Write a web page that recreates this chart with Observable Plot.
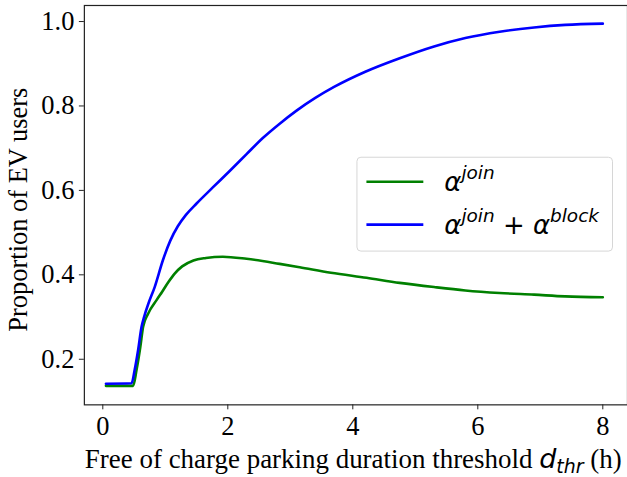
<!DOCTYPE html>
<html><head><meta charset="utf-8">
<script src="https://cdn.jsdelivr.net/npm/d3@7"></script>
<script src="https://cdn.jsdelivr.net/npm/@observablehq/plot@0.6"></script>
<style>html,body{margin:0;padding:0;background:#fff;overflow:hidden} svg{display:block}</style>
</head><body><div id="chart"></div>
<script>
// alpha^join series
const joinX = [0.05, 0.485, 0.54, 0.6, 0.645, 0.725, 0.86, 0.95, 1.05, 1.15, 1.27, 1.45, 1.65, 1.92, 2.3, 2.83, 3.15, 3.65, 4.22, 4.75, 5.3, 5.8, 6.35, 6.9, 7.4, 8.0];
const joinY = [0.137, 0.137, 0.175, 0.229, 0.277, 0.308, 0.340, 0.360, 0.383, 0.403, 0.420, 0.434, 0.440, 0.443, 0.438, 0.426, 0.418, 0.405, 0.393, 0.381, 0.371, 0.363, 0.357, 0.353, 0.349, 0.347];
// alpha^join + alpha^block series
const totalX = [0.05, 0.46, 0.51, 0.565, 0.62, 0.66, 0.73, 0.83, 0.96, 1.08, 1.2, 1.33, 1.5, 1.76, 2.03, 2.3, 2.56, 2.83, 3.1, 3.4, 3.7, 4.2, 4.75, 5.3, 5.8, 6.35, 6.9, 7.4, 8.0];
const totalY = [0.142, 0.143, 0.175, 0.222, 0.277, 0.300, 0.332, 0.371, 0.434, 0.481, 0.515, 0.542, 0.569, 0.607, 0.646, 0.686, 0.724, 0.758, 0.789, 0.819, 0.845, 0.881, 0.913, 0.941, 0.961, 0.976, 0.986, 0.992, 0.995];
const xTicks = [0, 2, 4, 6, 8];
const yTicks = [0.2, 0.4, 0.6, 0.8, 1.0];
const xDomain = [-0.295, 8.395];
const yDomain = [0.092, 1.038];
const seriesColors = ["green", "blue"];

const joinData = joinX.map((x, i) => ({x, y: joinY[i]}));
const totalData = totalX.map((x, i) => ({x, y: totalY[i]}));

const serif = "'Liberation Serif', 'Times New Roman', serif";
const sans = "'DejaVu Sans', sans-serif";

const plot = Plot.plot({
  width: 628, height: 477,
  marginLeft: 84, marginRight: 0, marginTop: 5, marginBottom: 72,
  x: {domain: xDomain},
  y: {domain: yDomain},
  style: {fontFamily: serif, fontSize: "26.5px", color: "black", background: "white", overflow: "visible"},
  marks: [
    Plot.frame({stroke: "#222", strokeWidth: 1.2}),
    Plot.axisX({ticks: xTicks, tickFormat: d => String(d), tickSize: 5, tickPadding: 6, label: null, fontSize: 26.5, stroke: "#222"}),
    Plot.axisY({ticks: yTicks, tickFormat: d3.format(".1f"), tickSize: 5, tickPadding: 5, label: null, fontSize: 26.5, stroke: "#222"}),
    Plot.line(joinData, {x: "x", y: "y", stroke: seriesColors[0], strokeWidth: 2.6, curve: "monotone-x"}),
    Plot.line(totalData, {x: "x", y: "y", stroke: seriesColors[1], strokeWidth: 2.6, curve: "monotone-x"})
  ]
});
document.getElementById("chart").appendChild(plot);

const svg = d3.select(plot);

// x axis label
const xl = svg.append("text").attr("x", 85).attr("y", 469).attr("text-anchor", "start")
  .attr("font-family", serif).attr("font-size", 27).attr("fill", "black");
xl.append("tspan").text("Free of charge parking duration threshold ");
xl.append("tspan").attr("font-family", sans).attr("font-style", "italic").attr("font-size", 27).text("d");
xl.append("tspan").attr("font-family", sans).attr("font-style", "italic").attr("font-size", 19).attr("dy", 5).text("thr");
xl.append("tspan").attr("dy", -5).text(" (h)");

// y axis label
svg.append("text").attr("transform", "translate(27,210) rotate(-90)")
  .attr("text-anchor", "middle").attr("font-family", serif).attr("font-size", 26.5).attr("fill", "black")
  .text("Proportion of EV users");

// legend
const lg = svg.append("g");
lg.append("rect").attr("x", 357.5).attr("y", 157.5).attr("width", 256).attr("height", 94).attr("rx", 4)
  .attr("fill", "white").attr("fill-opacity", 0.8).attr("stroke", "#d6d6d6");
const rows = [
  {y: 182, base: 191, color: seriesColors[0], parts: [["α", "join"]]},
  {y: 225, base: 234, color: seriesColors[1], parts: [["α", "join"], ["+"], ["α", "block"]]}
];
rows.forEach(r => {
  lg.append("line").attr("x1", 367).attr("x2", 424).attr("y1", r.y).attr("y2", r.y)
    .attr("stroke", r.color).attr("stroke-width", 2.6);
  const t = lg.append("text").attr("x", 445).attr("y", r.base).attr("text-anchor", "start")
    .attr("font-family", sans).attr("font-size", 26).attr("fill", "black");
  let raised = false;
  r.parts.forEach(p => {
    const back = raised ? 12 : 0;
    raised = false;
    if (p.length === 1) {
      t.append("tspan").attr("font-style", "normal").attr("dy", back).text("\u00A0" + p[0] + "\u00A0");
    } else {
      t.append("tspan").attr("font-style", "italic").attr("dy", back).text(p[0]);
      t.append("tspan").attr("font-style", "italic").attr("font-size", 18.5).attr("dy", -12).text(p[1]);
      raised = true;
    }
  });
});
</script>
</body></html>
